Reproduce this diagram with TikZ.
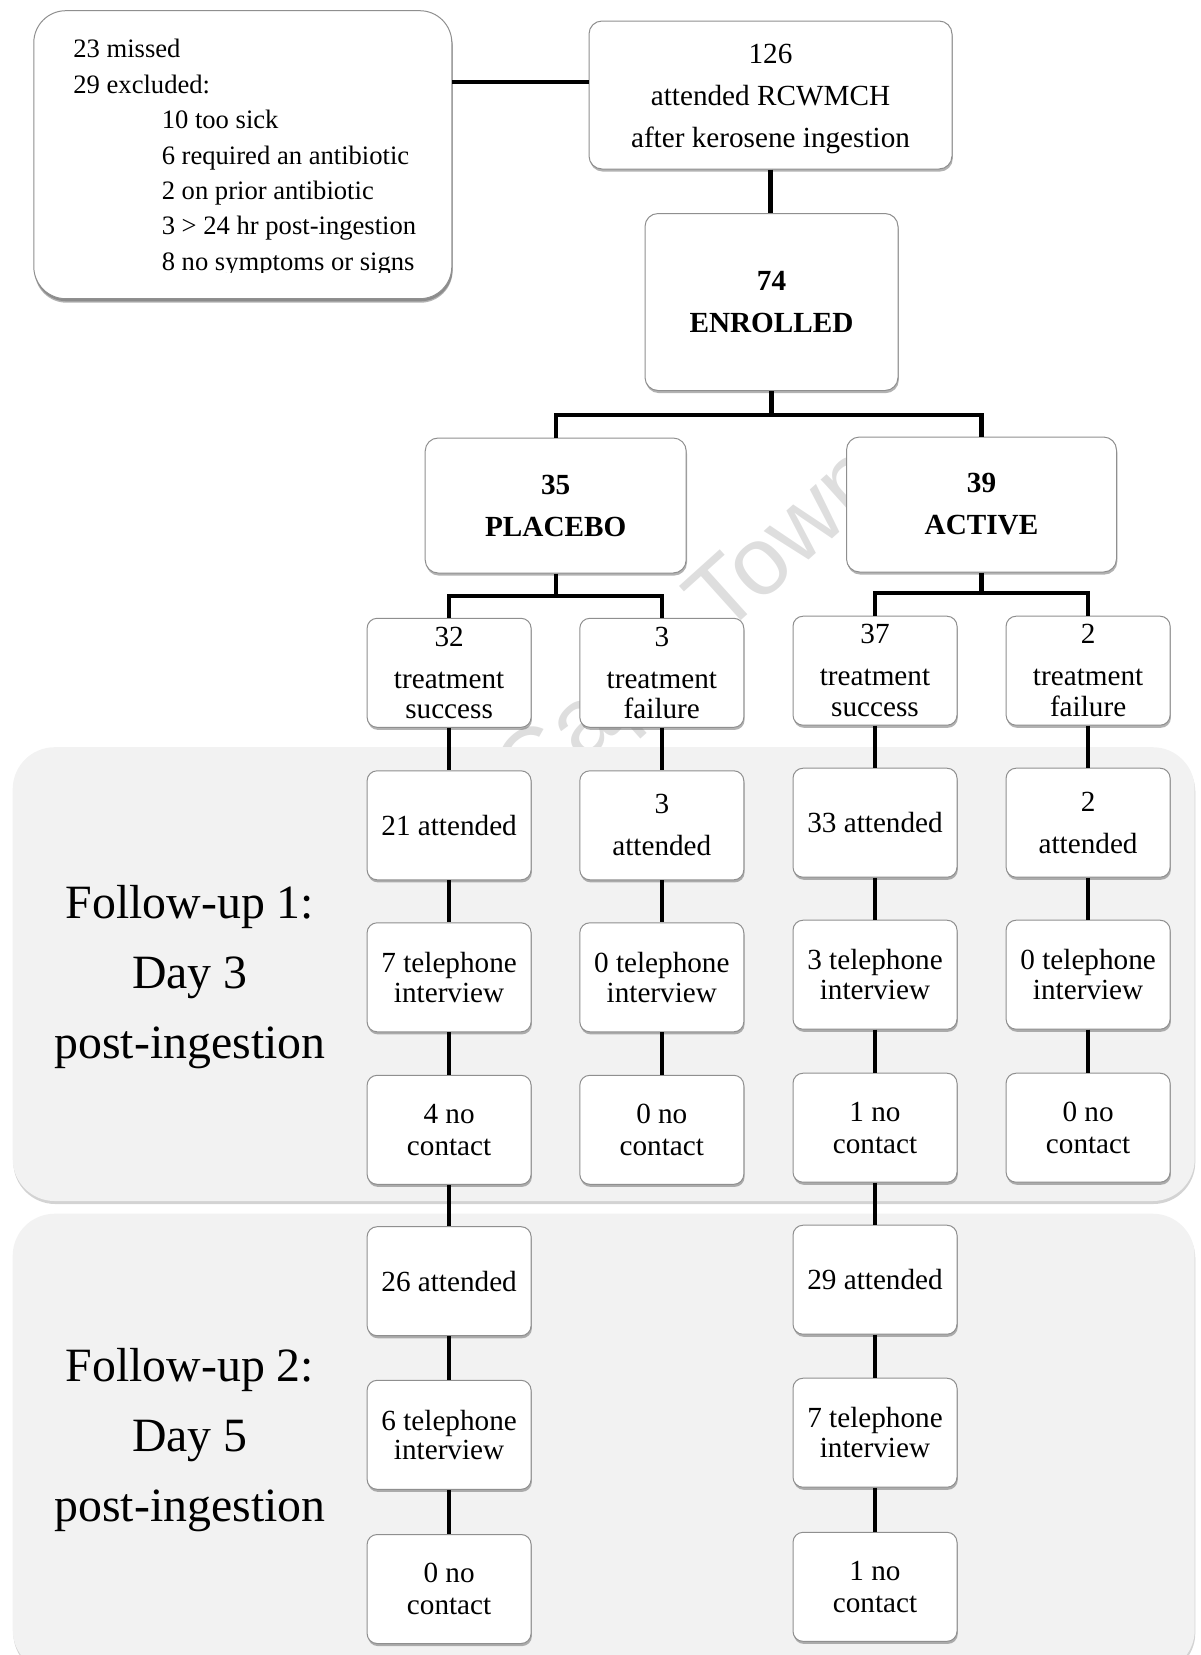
\documentclass[tikz,border=0pt]{standalone}
\usepackage{fontspec}
\setmainfont{Liberation Serif}
\newfontfamily\markfont{Liberation Sans}
\usetikzlibrary{shadows}

\definecolor{panelgrey}{HTML}{F2F2F2}
\definecolor{edgegrey}{HTML}{8F8F8F}
\definecolor{markgrey}{HTML}{DEDEDE}

\begin{document}
\begin{tikzpicture}[
    x=0.5pt, y=-0.5pt,
    box/.style={rectangle, rounded corners=5pt, draw=edgegrey, line width=0.5pt, fill=white,
        align=center, inner sep=0pt, font=\fontsize{14.6}{14.8}\selectfont,
        drop shadow={shadow xshift=0.4pt, shadow yshift=-1.3pt, fill=black!60, opacity=0.5}},
    boldbox/.style={box, rounded corners=6.5pt, font=\fontsize{14.6}{14.8}\selectfont\bfseries},
    small/.style={box, minimum width=82pt, minimum height=54.5pt},
    panel/.style={rounded corners=21pt, fill=panelgrey,
        drop shadow={shadow xshift=0.3pt, shadow yshift=-1.5pt, fill=black!50, opacity=0.35}},
    link/.style={line width=2.1pt, black},
    phase/.style={align=center, font=\fontsize{23.9}{35}\selectfont},
    wmark/.style={font=\markfont\fontsize{48.5}{50}\selectfont, text=markgrey, inner sep=0pt}
]
\clip (0,0) rectangle (1200,1655);

% Watermark
\begin{scope}
    \clip (0,0) rectangle (1200,747);
    \node[wmark, anchor=base east, rotate=42] (wm) at (891,486) {University of Cape Town};
\end{scope}

% Follow-up panels
\path[panel] (12.7,747.2) rectangle (1194.7,1201);
\path[panel] (12.7,1213.7) rectangle (1194.7,1672);
\node[phase] (fu1) at (190,977) {Follow-up 1:\\Day 3\\post-ingestion};
\node[phase] (fu2) at (190,1440) {Follow-up 2:\\Day 5\\post-ingestion};

% Screening
\node[box, rounded corners=16pt, minimum width=209pt, minimum height=144pt,
    drop shadow={shadow xshift=0.4pt, shadow yshift=-2pt, fill=black!60, opacity=0.5}] (excl) at (242.8,154.7) {};
\begin{scope}
    \clip (30,0) rectangle (460,272);
    \node[anchor=north west, inner sep=0pt, align=left, font=\fontsize{13.3}{17.7}\selectfont] (excltext) at (73,39)
        {23 missed\\29 excluded:\\\hspace*{44.2pt}10 too sick\\\hspace*{44.2pt}6 required an antibiotic\\
         \hspace*{44.2pt}2 on prior antibiotic\\\hspace*{44.2pt}3 > 24 hr post-ingestion\\\hspace*{44.2pt}8 no symptoms or signs};
\end{scope}
\node[box, rounded corners=6.5pt, minimum width=181.5pt, minimum height=74pt] (seen) at (770.5,95)
    {\rule{0pt}{14pt}126\\[6.2pt]attended RCWMCH\\[6.2pt]after kerosene ingestion};
\node[boldbox, minimum width=126.5pt, minimum height=88.5pt] (enrolled) at (771.5,302) {74\\[6.2pt]ENROLLED};

% Randomisation
\node[boldbox, minimum width=130.5pt, minimum height=67.5pt] (placebo) at (555.7,505.5) {35\\[6.2pt]PLACEBO};
\node[boldbox, minimum width=135pt, minimum height=67.5pt] (active) at (981.5,504.5) {39\\[6.2pt]ACTIVE};

% Outcome
\node[small] (ps0) at (449.1,672.8) {32\\[6.2pt]treatment\\[0.5pt]success};
\node[small] (pf0) at (661.8,672.8) {3\\[6.2pt]treatment\\[0.5pt]failure};
\node[small] (as0) at (875,670.7) {37\\[6.2pt]treatment\\[0.5pt]success};
\node[small] (af0) at (1088.1,670.7) {2\\[6.2pt]treatment\\[0.5pt]failure};

% Follow-up 1
\node[small] (ps1) at (449.1,825.3) {21 attended};
\node[small] (pf1) at (661.8,825.3) {3\\[6.2pt]attended};
\node[small] (as1) at (875,822.7) {33 attended};
\node[small] (af1) at (1088.1,822.7) {2\\[6.2pt]attended};
\node[small] (ps2) at (449.1,977.3) {7 telephone\\interview};
\node[small] (pf2) at (661.8,977.3) {0 telephone\\interview};
\node[small] (as2) at (875,974.7) {3 telephone\\interview};
\node[small] (af2) at (1088.1,974.7) {0 telephone\\interview};
\node[small] (ps3) at (449.1,1129.8) {4 no\\[1pt]contact};
\node[small] (pf3) at (661.8,1129.8) {0 no\\[1pt]contact};
\node[small] (as3) at (875,1127.7) {1 no\\[1pt]contact};
\node[small] (af3) at (1088.1,1127.7) {0 no\\[1pt]contact};

% Follow-up 2
\node[small] (ps4) at (449.1,1281.2) {26 attended};
\node[small] (as4) at (875,1279.7) {29 attended};
\node[small] (ps5) at (449.1,1434.8) {6 telephone\\interview};
\node[small] (as5) at (875,1432.7) {7 telephone\\interview};
\node[small] (ps6) at (449.1,1589) {0 no\\[1pt]contact};
\node[small] (as6) at (875,1586.8) {1 no\\[1pt]contact};

% Connectors
\draw[link] (excl.east |- 0,82) -- (seen.west |- 0,82);
\draw[link] (seen.south) -- (seen.south |- enrolled.north);
\draw[link] (enrolled.south) -- (enrolled.south |- 0,415);
\draw[link] (placebo.north) |- (enrolled.south |- 0,415) -| (active.north);
\draw[link] (placebo.south) -- (placebo.south |- 0,596);
\draw[link] (ps0.north) |- (placebo.south |- 0,596) -| (pf0.north);
\draw[link] (active.south) -- (active.south |- 0,593);
\draw[link] (as0.north) |- (active.south |- 0,593) -| (af0.north);
\draw[link] (ps0) -- (ps1) (ps1) -- (ps2) (ps2) -- (ps3) (ps3) -- (ps4) (ps4) -- (ps5) (ps5) -- (ps6);
\draw[link] (pf0) -- (pf1) (pf1) -- (pf2) (pf2) -- (pf3);
\draw[link] (as0) -- (as1) (as1) -- (as2) (as2) -- (as3) (as3) -- (as4) (as4) -- (as5) (as5) -- (as6);
\draw[link] (af0) -- (af1) (af1) -- (af2) (af2) -- (af3);
\end{tikzpicture}
\end{document}
